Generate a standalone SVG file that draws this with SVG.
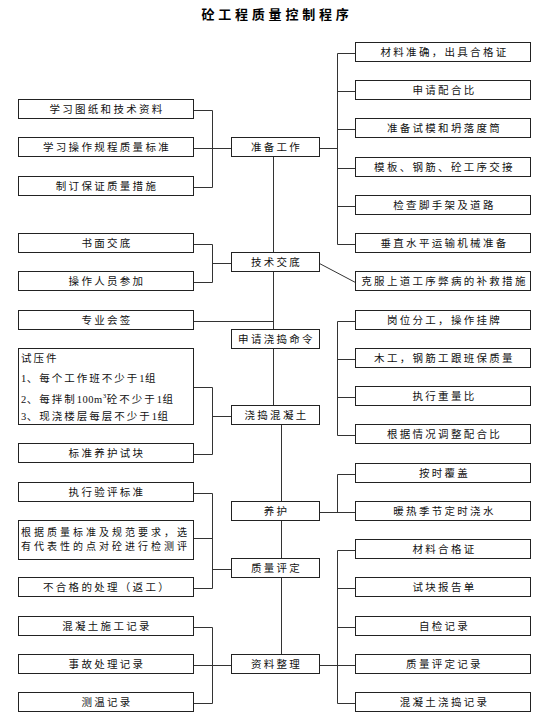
<svg xmlns="http://www.w3.org/2000/svg" width="554" height="718" viewBox="0 0 554 718">
<style>
.bg{fill:#fff}
.box{fill:#fff;stroke:#222;stroke-width:1}
.t{font-family:"Noto Sans CJK SC","Noto Sans CJK JP",sans-serif;font-size:10.5px;letter-spacing:2.3px;text-anchor:middle;fill:#111}
.tl{font-family:"Noto Sans CJK SC","Noto Sans CJK JP",sans-serif;font-size:10.5px;letter-spacing:2px;fill:#111}
.t2{font-family:"Noto Sans CJK SC","Noto Sans CJK JP",sans-serif;font-size:10px;letter-spacing:3px;fill:#111}
.num{font-family:"Liberation Serif",serif;letter-spacing:0.5px}
.title{font-family:"Noto Sans CJK SC","Noto Sans CJK JP",sans-serif;font-size:13px;font-weight:bold;letter-spacing:3.8px;text-anchor:middle;fill:#000}
.ln{fill:none;stroke:#333;stroke-width:1}
</style>
<rect class="bg" x="0" y="0" width="554" height="718"/>
<text class="title" x="277" y="19">砼工程质量控制程序</text>

<g id="connectors">
<path class="ln" d="M193.5 110.5H212.5V187.5H193.5M193.5 148.5H231.5"/>
<path class="ln" d="M355.5 53.5H337.5V244.5H355.5M337.5 91.5H355.5M337.5 129.5H355.5M337.5 168.5H355.5M337.5 206.5H355.5M319.5 148.5H337.5"/>
<path class="ln" d="M273.5 156.5V252.5M273.5 271.5V329.5M273.5 348.5V405.5"/>
<path class="ln" d="M281.5 424.5V501.5M281.5 520.5V558.5M281.5 577.5V654.5"/>
<path class="ln" d="M193.5 244.5H212.5V282.5H193.5M212.5 263.5H231.5"/>
<path class="ln" d="M319.5 263.5L355.5 282.5"/>
<path class="ln" d="M193.5 321.5H273.5"/>
<path class="ln" d="M193.5 387.5H212.5V454.5H193.5M212.5 416.5H231.5"/>
<path class="ln" d="M355.5 321.5H337.5V435.5H355.5M337.5 359.5H355.5M337.5 397.5H355.5"/>
<path class="ln" d="M355.5 474.5H337.5V512.5M319.5 512.5H355.5"/>
<path class="ln" d="M193.5 493.5H212.5V588.5H193.5M193.5 538.5H212.5M212.5 569.5H231.5"/>
<path class="ln" d="M193.5 627.5H212.5V703.5H193.5M193.5 665.5H231.5"/>
<path class="ln" d="M355.5 550.5H337.5V703.5H355.5M337.5 588.5H355.5M337.5 627.5H355.5M319.5 665.5H355.5"/>
</g>

<!-- center nodes -->
<g id="n-zhunbei"><rect class="box" x="231.5" y="137.5" width="88" height="19"/><text class="t" x="276.5" y="151">准备工作</text></g>
<g id="n-jishujiaodi"><rect class="box" x="231.5" y="252.5" width="88" height="19"/><text class="t" x="276.5" y="266">技术交底</text></g>
<g id="n-shenqing"><rect class="box" x="231.5" y="329.5" width="88" height="19"/><text class="t" x="276.5" y="343">申请浇捣命令</text></g>
<g id="n-jiaodao"><rect class="box" x="231.5" y="405.5" width="88" height="19"/><text class="t" x="276.5" y="419">浇捣混凝土</text></g>
<g id="n-yanghu"><rect class="box" x="231.5" y="501.5" width="88" height="19"/><text class="t" x="276.5" y="515">养护</text></g>
<g id="n-zhiliangpingding"><rect class="box" x="231.5" y="558.5" width="88" height="19"/><text class="t" x="276.5" y="572">质量评定</text></g>
<g id="n-ziliao"><rect class="box" x="231.5" y="654.5" width="88" height="19"/><text class="t" x="276.5" y="668">资料整理</text></g>

<!-- right nodes -->
<g id="r0"><rect class="box" x="355.5" y="42.5" width="175" height="19"/><text class="t" x="444.5" y="56">材料准确，出具合格证</text></g>
<g id="r1"><rect class="box" x="355.5" y="80.5" width="175" height="19"/><text class="t" x="444.5" y="94">申请配合比</text></g>
<g id="r2"><rect class="box" x="355.5" y="118.5" width="175" height="19"/><text class="t" x="444.5" y="132">准备试模和坍落度筒</text></g>
<g id="r3"><rect class="box" x="355.5" y="157.5" width="175" height="19"/><text class="t" x="444.5" y="171">模板、钢筋、砼工序交接</text></g>
<g id="r4"><rect class="box" x="355.5" y="195.5" width="175" height="19"/><text class="t" x="444.5" y="209">检查脚手架及道路</text></g>
<g id="r5"><rect class="box" x="355.5" y="233.5" width="175" height="19"/><text class="t" x="444.5" y="247">垂直水平运输机械准备</text></g>
<g id="r6"><rect class="box" x="355.5" y="271.5" width="175" height="19"/><text class="t" x="444.5" y="285">克服上道工序弊病的补救措施</text></g>
<g id="r7"><rect class="box" x="355.5" y="310.5" width="175" height="19"/><text class="t" x="444.5" y="324">岗位分工，操作挂牌</text></g>
<g id="r8"><rect class="box" x="355.5" y="348.5" width="175" height="19"/><text class="t" x="444.5" y="362">木工，钢筋工跟班保质量</text></g>
<g id="r9"><rect class="box" x="355.5" y="386.5" width="175" height="19"/><text class="t" x="444.5" y="400">执行重量比</text></g>
<g id="r10"><rect class="box" x="355.5" y="424.5" width="175" height="19"/><text class="t" x="444.5" y="438">根据情况调整配合比</text></g>
<g id="r11"><rect class="box" x="355.5" y="463.5" width="175" height="19"/><text class="t" x="444.5" y="477">按时覆盖</text></g>
<g id="r12"><rect class="box" x="355.5" y="501.5" width="175" height="19"/><text class="t" x="444.5" y="515">暖热季节定时浇水</text></g>
<g id="r13"><rect class="box" x="355.5" y="539.5" width="175" height="19"/><text class="t" x="444.5" y="553">材料合格证</text></g>
<g id="r14"><rect class="box" x="355.5" y="577.5" width="175" height="19"/><text class="t" x="444.5" y="591">试块报告单</text></g>
<g id="r15"><rect class="box" x="355.5" y="616.5" width="175" height="19"/><text class="t" x="444.5" y="630">自检记录</text></g>
<g id="r16"><rect class="box" x="355.5" y="654.5" width="175" height="19"/><text class="t" x="444.5" y="668">质量评定记录</text></g>
<g id="r17"><rect class="box" x="355.5" y="692.5" width="175" height="19"/><text class="t" x="444.5" y="706">混凝土浇捣记录</text></g>

<!-- left nodes -->
<g id="l0"><rect class="box" x="18.5" y="99.5" width="175" height="19"/><text class="t" x="107" y="113">学习图纸和技术资料</text></g>
<g id="l1"><rect class="box" x="18.5" y="137.5" width="175" height="19"/><text class="t" x="107" y="151">学习操作规程质量标准</text></g>
<g id="l2"><rect class="box" x="18.5" y="176.5" width="175" height="19"/><text class="t" x="107" y="190">制订保证质量措施</text></g>
<g id="l3"><rect class="box" x="18.5" y="233.5" width="175" height="19"/><text class="t" x="107" y="247">书面交底</text></g>
<g id="l4"><rect class="box" x="18.5" y="271.5" width="175" height="19"/><text class="t" x="107" y="285">操作人员参加</text></g>
<g id="l5"><rect class="box" x="18.5" y="310.5" width="175" height="19"/><text class="t" x="107" y="324">专业会签</text></g>
<g id="l6"><rect class="box" x="18.5" y="348.5" width="175" height="76"/>
<text class="tl" x="21" y="362">试压件</text>
<text class="tl" x="21" y="382"><tspan class="num">1</tspan>、每个工作班不少于<tspan class="num">1</tspan>组</text>
<text class="tl" x="21" y="403"><tspan class="num">2</tspan>、每拌制<tspan class="num">100m</tspan><tspan class="num" font-size="7" dy="-5">3</tspan><tspan dy="5">砼不少于</tspan><tspan class="num">1</tspan>组</text>
<text class="tl" x="21" y="420"><tspan class="num">3</tspan>、现浇楼层每层不少于<tspan class="num">1</tspan>组</text>
</g>
<g id="l7"><rect class="box" x="18.5" y="443.5" width="175" height="19"/><text class="t" x="107" y="457">标准养护试块</text></g>
<g id="l8"><rect class="box" x="18.5" y="482.5" width="175" height="19"/><text class="t" x="107" y="496">执行验评标准</text></g>
<g id="l9"><rect class="box" x="18.5" y="520.5" width="175" height="39"/>
<text class="t2" x="21" y="535.5">根据质量标准及规范要求，选</text>
<text class="t2" x="21" y="550">有代表性的点对砼进行检测评</text>
</g>
<g id="l10"><rect class="box" x="18.5" y="577.5" width="175" height="19"/><text class="t" x="107" y="591">不合格的处理（返工）</text></g>
<g id="l11"><rect class="box" x="18.5" y="616.5" width="175" height="19"/><text class="t" x="107" y="630">混凝土施工记录</text></g>
<g id="l12"><rect class="box" x="18.5" y="654.5" width="175" height="19"/><text class="t" x="107" y="668">事故处理记录</text></g>
<g id="l13"><rect class="box" x="18.5" y="692.5" width="175" height="19"/><text class="t" x="107" y="706">测温记录</text></g>
</svg>
